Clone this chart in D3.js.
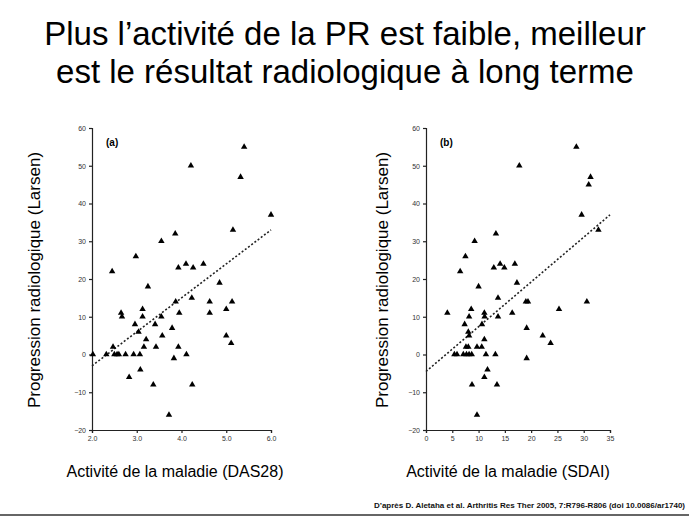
<!DOCTYPE html>
<html><head><meta charset="utf-8">
<script src="https://cdn.jsdelivr.net/npm/d3@7"></script>
<style>body{margin:0;background:#fff}svg{display:block;font-family:"Liberation Sans",Arial,sans-serif}</style>
</head><body>
<script>
const titleLines = ["Plus l’activité de la PR est faible, meilleur", "est le résultat radiologique à long terme"]
const yLabel = "Progression radiologique (Larsen)"
const source = "D’après D. Aletaha et al. Arthritis Res Ther 2005, 7:R796-R806  (doi 10.0086/ar1740)"

// panel (a): DAS28 vs Larsen
const dasX = [2.02,2.32,2.45,2.47,2.5,2.56,2.6,2.65,2.67,2.75,2.83,2.93,2.96,2.98,3.04,3.07,3.08,3.13,3.13,3.16,3.21,3.25,3.37,3.41,3.43,3.55,3.55,3.57,3.79,3.83,3.86,3.87,3.72,3.93,3.95,3.93,4.1,4.11,4.21,4.23,4.24,4.26,4.49,4.63,4.63,4.85,5.0,5.0,5.11,5.13,5.15,5.32,5.4,6.0]
const dasY = [0,0,22,2,0,0,0,11,10,0,-6,0,8,26,6,0,-4,12,10,2,4,18,-8,8,2,30,10,5,7,-1,32,14,-16,23,11,2,24,0,50,15,-8,23,24,11,14,19,12,5,3,14,33,47,55,37]
const dasTrend = [[2.0,-3],[6.0,33]]

// panel (b): SDAI vs Larsen
const sdaiX = [4.06,5.4,5.9,6.5,7.1,7.35,7.5,7.6,8.05,8.05,8.2,8.2,7.7,8.2,8.7,8.6,8.75,9.25,9.7,9.7,10.0,10.6,10.65,11.1,11.15,11.1,11.1,11.4,11.7,12.9,13.2,13.3,13.5,13.7,13.7,14.1,14.9,16.4,16.9,17.3,17.75,19.0,19.4,19.15,19.15,22.2,23.7,25.3,28.6,29.6,30.6,30.95,31.3,32.8]
const sdaiY = [11,0,0,22,0,8,26,2,2,6,10,5,0,0,0,12,-8,30,2,-16,18,2,8,11,10,4,-6,0,-4,23,0,32,-8,15,10,24,23,11,24,19,50,14,14,7,-1,5,3,12,55,37,14,45,47,33]
const sdaiTrend = [[0,-4.5],[35,37]]

const svg = d3.select("body").append("svg").attr("width", 689).attr("height", 517)

svg.selectAll(".title").data(titleLines).enter().append("text")
  .attr("x", 345).attr("y", (d, i) => 45 + i * 38)
  .attr("text-anchor", "middle").attr("font-size", 33).attr("fill", "#000").text(d => d)

function panel(cfg) {
  const x = d3.scaleLinear().domain(cfg.xDomain).range([cfg.left, cfg.right])
  const y = d3.scaleLinear().domain([-20, 60]).range([430, 128])
  const g = svg.append("g")
  const xa = g.append("g").attr("transform", "translate(0,430)")
    .call(d3.axisBottom(x).tickValues(cfg.xTicks).tickFormat(cfg.fmt).tickSize(3))
  const ya = g.append("g").attr("transform", `translate(${cfg.left},0)`)
    .call(d3.axisLeft(y).tickValues(d3.range(-20, 61, 10)).tickSize(3))
  for (const a of [xa, ya]) {
    a.selectAll("text").attr("font-size", 7).attr("fill", "#333")
    a.selectAll("path,line").attr("stroke", "#222").attr("stroke-width", 1.2)
  }
  g.append("text").attr("x", cfg.left + 14).attr("y", 146).attr("font-weight", "bold")
    .attr("font-size", 10).text(cfg.tag)
  g.append("line")
    .attr("x1", x(cfg.trend[0][0])).attr("y1", y(cfg.trend[0][1]))
    .attr("x2", x(cfg.trend[1][0])).attr("y2", y(cfg.trend[1][1]))
    .attr("stroke", "#222").attr("stroke-width", 1.6).attr("stroke-dasharray", "2,2")
  const tri = d3.symbol().type(d3.symbolTriangle).size(18)
  g.selectAll(".pt").data(cfg.xs).enter().append("path")
    .attr("d", tri).attr("fill", "#000")
    .attr("transform", (d, i) => `translate(${x(d)},${y(cfg.ys[i])})`)
  g.append("text").attr("transform", `translate(${cfg.ylx},280) rotate(-90)`)
    .attr("text-anchor", "middle").attr("font-size", 17).text(yLabel)
  g.append("text").attr("x", cfg.xlx).attr("y", 477).attr("text-anchor", "middle")
    .attr("font-size", 16).text(cfg.xLabel)
}

panel({ xDomain: [2, 6], left: 92, right: 271, xTicks: [2, 3, 4, 5, 6], fmt: d3.format(".1f"),
  tag: "(a)", trend: dasTrend, xs: dasX, ys: dasY, ylx: 40, xlx: 175, xLabel: "Activité de la maladie (DAS28)" })
panel({ xDomain: [0, 35], left: 426, right: 610, xTicks: d3.range(0, 36, 5), fmt: d3.format("d"),
  tag: "(b)", trend: sdaiTrend, xs: sdaiX, ys: sdaiY, ylx: 388, xlx: 508, xLabel: "Activité de la maladie (SDAI)" })

svg.append("text").attr("x", 685).attr("y", 508).attr("text-anchor", "end")
  .attr("font-size", 8).attr("font-weight", "bold").attr("fill", "#111").text(source)
svg.append("line").attr("x1", 0).attr("x2", 689).attr("y1", 515).attr("y2", 515).attr("stroke", "#666").attr("stroke-width", 2)
</script>
</body></html>
